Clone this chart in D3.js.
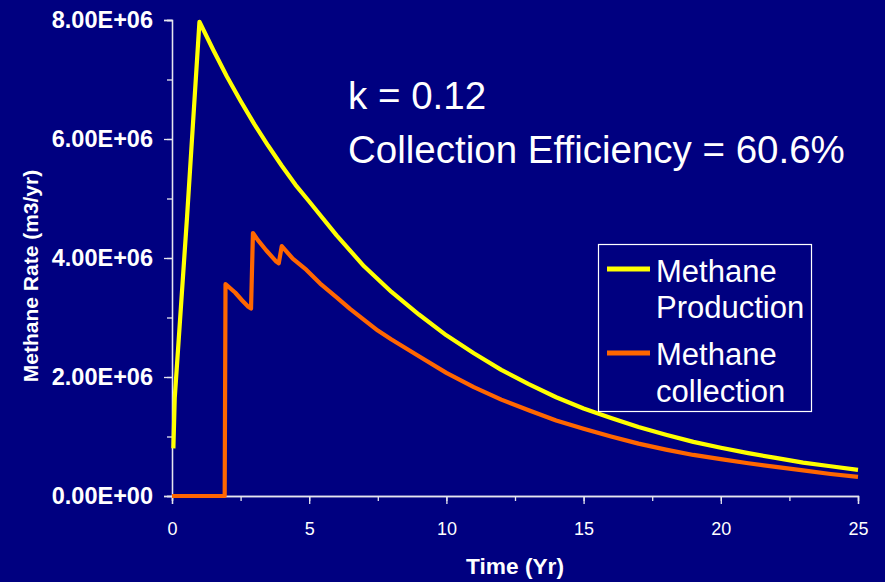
<!DOCTYPE html>
<html>
<head>
<meta charset="utf-8">
<script src="https://cdn.jsdelivr.net/npm/d3@7"></script>
<style>
  html, body { margin: 0; padding: 0; background: #000080; }
  svg { display: block; }
  text { font-family: "Liberation Sans", Arial, sans-serif; fill: #ffffff; }
</style>
</head>
<body>
<svg id="chart" width="885" height="582"></svg>
<script>
// Landfill methane: yearly production vs. collected gas (m3/yr)
const productionTime = [0.05, 0.1, 0.55, 1.0, 1.5, 2, 2.5, 3, 3.5, 4, 4.5, 5, 6, 7, 8, 9, 10, 11, 12, 13, 14, 15, 16, 17, 18, 19, 20, 21, 22, 23, 24, 25];
const productionRate = [0.80e6, 1.65e6, 4.70e6, 7.97e6, 7.50e6, 7.05e6, 6.64e6, 6.25e6, 5.89e6, 5.55e6, 5.23e6, 4.95e6, 4.38e6, 3.86e6, 3.43e6, 3.05e6, 2.70e6, 2.40e6, 2.12e6, 1.88e6, 1.66e6, 1.47e6, 1.31e6, 1.16e6, 1.03e6, 0.91e6, 0.81e6, 0.72e6, 0.64e6, 0.56e6, 0.50e6, 0.44e6];

const collectionTime = [0, 1.92, 1.95, 2.3, 2.55, 2.78, 2.88, 2.95, 3.13, 3.43, 3.8, 3.89, 4.0, 4.4, 4.9, 5.4, 6, 6.5, 7, 7.5, 8, 9, 10, 11, 12, 13, 14, 15, 16, 17, 18, 19, 20, 21, 22, 23, 24, 25];
const collectionRate = [0, 0, 3.56e6, 3.42e6, 3.29e6, 3.18e6, 3.15e6, 4.42e6, 4.30e6, 4.13e6, 3.94e6, 3.91e6, 4.20e6, 3.99e6, 3.80e6, 3.57e6, 3.34e6, 3.14e6, 2.96e6, 2.78e6, 2.63e6, 2.35e6, 2.07e6, 1.83e6, 1.62e6, 1.44e6, 1.27e6, 1.13e6, 1.00e6, 0.88e6, 0.78e6, 0.69e6, 0.62e6, 0.55e6, 0.49e6, 0.43e6, 0.37e6, 0.32e6];

const xMajorTicks = [0, 5, 10, 15, 20, 25];
const xMinorTicks = [0, 2.5, 5, 7.5, 10, 12.5, 15, 17.5, 20, 22.5, 25];
const yMajorTicks = [0, 2e6, 4e6, 6e6, 8e6];
const yMinorTicks = [0, 1e6, 2e6, 3e6, 4e6, 5e6, 6e6, 7e6, 8e6];
const yTickLabels = ["0.00E+00", "2.00E+06", "4.00E+06", "6.00E+06", "8.00E+06"];

const seriesNames = ["Methane Production", "Methane collection"];
const seriesColors = ["#ffff00", "#ff6600"];
const noteLines = ["k = 0.12", "Collection Efficiency = 60.6%"];

const svg = d3.select("#chart");
const plot = { left: 172, right: 858, top: 20, bottom: 496 };
const axisColor = "#e6e6ee";

const x = d3.scaleLinear().domain([0, 25]).range([plot.left, plot.right]);
const y = d3.scaleLinear().domain([0, 8e6]).range([plot.bottom, plot.top]);

svg.append("rect").attr("width", 885).attr("height", 582).attr("fill", "#000080");

// minor ticks first, majors on top
const yMinor = svg.append("g")
  .attr("transform", `translate(${plot.left},0)`)
  .call(d3.axisLeft(y).tickValues(yMinorTicks).tickSize(5).tickFormat(""));
const yMajor = svg.append("g")
  .attr("transform", `translate(${plot.left},0)`)
  .call(d3.axisLeft(y).tickValues(yMajorTicks).tickSize(8).tickPadding(11)
    .tickFormat((d, i) => yTickLabels[i]));
const xMinor = svg.append("g")
  .attr("transform", `translate(0,${plot.bottom})`)
  .call(d3.axisBottom(x).tickValues(xMinorTicks).tickSize(5).tickFormat(""));
const xMajor = svg.append("g")
  .attr("transform", `translate(0,${plot.bottom})`)
  .call(d3.axisBottom(x).tickValues(xMajorTicks).tickSize(8).tickPadding(18)
    .tickFormat(d3.format("d")));

[yMinor, yMajor, xMinor, xMajor].forEach(g => {
  g.selectAll(".domain").attr("stroke", axisColor).attr("stroke-width", 1.3);
  g.selectAll(".tick line").attr("stroke", axisColor).attr("stroke-width", 1.3);
});
yMajor.selectAll(".tick text")
  .attr("fill", "#ffffff").style("font-size", "23.5px").style("font-weight", "bold")
  .style("font-family", "'Liberation Sans', Arial, sans-serif");
xMajor.selectAll(".tick text")
  .attr("fill", "#ffffff").style("font-size", "18px")
  .style("font-family", "'Liberation Sans', Arial, sans-serif");

// axis titles
svg.append("text")
  .attr("x", (plot.left + plot.right) / 2).attr("y", 574)
  .attr("text-anchor", "middle")
  .style("font-size", "22.7px").style("font-weight", "bold")
  .text("Time (Yr)");
svg.append("text")
  .attr("transform", "translate(38,276) rotate(-90)")
  .attr("text-anchor", "middle")
  .style("font-size", "21px").style("font-weight", "bold")
  .text("Methane Rate (m3/yr)");

// series lines
const line = d3.line().x(d => x(d[0])).y(d => y(d[1]));
const productionPts = productionTime.map((t, i) => [t, productionRate[i]]);
const collectionPts = collectionTime.map((t, i) => [t, collectionRate[i]]);

svg.append("path").datum(collectionPts)
  .attr("d", line).attr("fill", "none")
  .attr("stroke", seriesColors[1]).attr("stroke-width", 4.2)
  .attr("stroke-linejoin", "round");
svg.append("path").datum(productionPts)
  .attr("d", line).attr("fill", "none")
  .attr("stroke", seriesColors[0]).attr("stroke-width", 4.2)
  .attr("stroke-linejoin", "round");

// annotation
svg.append("text").attr("x", 348).attr("y", 109)
  .style("font-size", "38.5px").text(noteLines[0]);
svg.append("text").attr("x", 348).attr("y", 163)
  .style("font-size", "38.5px").text(noteLines[1]);

// legend
const legend = svg.append("g");
legend.append("rect")
  .attr("x", 598.5).attr("y", 244.5).attr("width", 213).attr("height", 167)
  .attr("fill", "#000080").attr("stroke", "#ffffff").attr("stroke-width", 1.2);
const legendRows = [
  { lines: ["Methane", "Production"], lineY: 269, baselines: [282, 318] },
  { lines: ["Methane", "collection"], lineY: 353, baselines: [365, 402] }
];
legendRows.forEach((row, i) => {
  legend.append("line")
    .attr("x1", 607).attr("x2", 650).attr("y1", row.lineY).attr("y2", row.lineY)
    .attr("stroke", seriesColors[i]).attr("stroke-width", 5);
  row.lines.forEach((txt, j) => {
    legend.append("text").attr("x", 656).attr("y", row.baselines[j])
      .style("font-size", "31px").text(txt);
  });
});
</script>
</body>
</html>
